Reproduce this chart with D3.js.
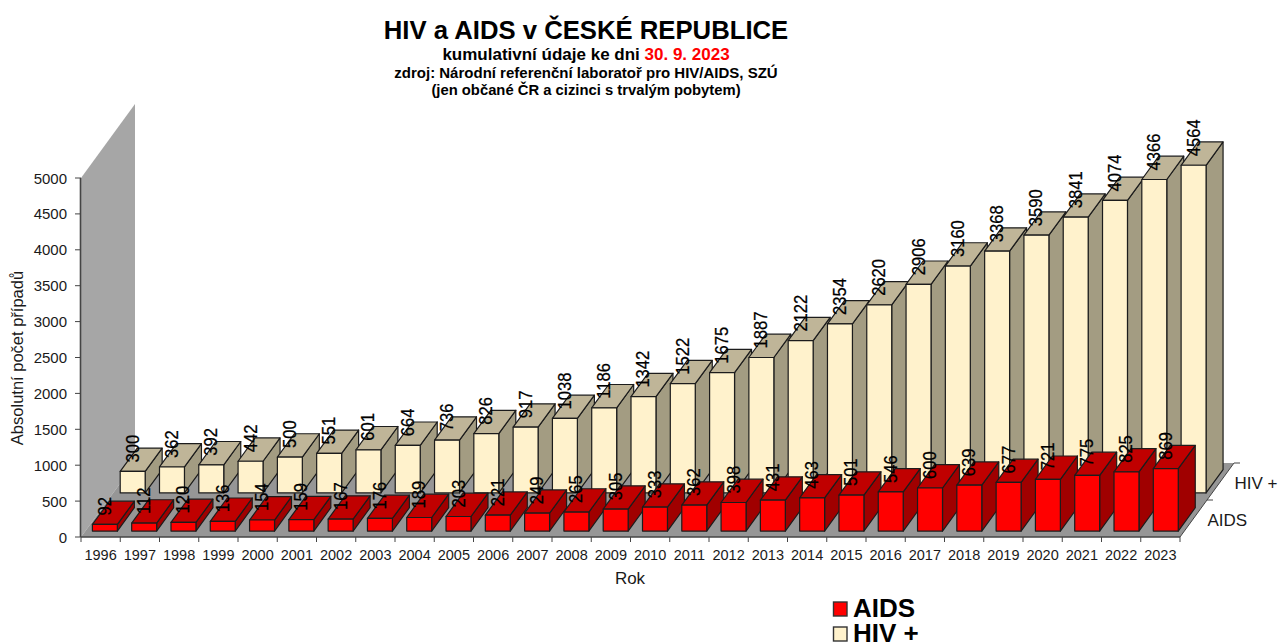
<!DOCTYPE html>
<html><head><meta charset="utf-8">
<script src="https://cdn.jsdelivr.net/npm/d3@7/dist/d3.min.js"></script>
<style>html,body{margin:0;padding:0;background:#fff}svg{display:block;font-family:"Liberation Sans",Arial,sans-serif}</style>
</head><body><svg id="c" width="1285" height="642"></svg>
<script>
const years=[1996,1997,1998,1999,2000,2001,2002,2003,2004,2005,2006,2007,2008,2009,2010,2011,2012,2013,2014,2015,2016,2017,2018,2019,2020,2021,2022,2023];
const hivValues=[300,362,392,442,500,551,601,664,736,826,917,1038,1186,1342,1522,1675,1887,2122,2354,2620,2906,3160,3368,3590,3841,4074,4366,4564];
const aidsValues=[92,112,120,136,154,159,167,176,189,203,221,249,265,305,333,362,398,431,463,501,546,600,639,677,721,775,825,869];
const yTicks=[0,500,1000,1500,2000,2500,3000,3500,4000,4500,5000];
const seriesNames=["AIDS","HIV +"];
const svg=d3.select("#c");
const TXT="#1a1a1a";
const x=d3.scaleBand().domain(years).range([81,1181]).paddingInner(0.365).paddingOuter(0.18);
const xTick=d3.scaleLinear().domain([0,years.length]).range([81,1180]);
const y=d3.scaleLinear().domain([0,5000]).range([537,178]);
const dx=d3.scaleLinear().domain([0,1]).range([0,54]);
const dy=d3.scaleLinear().domain([0,1]).range([0,-74]);
const P=(px,v,d)=>[px+dx(d),y(v)+dy(d)];
const path=pts=>"M"+pts.map(p=>p.join(",")).join("L")+"Z";
const g=svg.append("g");
// walls
g.append("path").attr("d",path([P(81,0,0),P(81,5000,0),P(81,5000,1),P(81,0,1)])).attr("fill","#a6a6a6");
g.append("path").attr("d",path([P(81,0,0),P(1180,0,0),P(1180,0,1),P(81,0,1)])).attr("fill","#969696");
const styles={
 AIDS:{front:"#ff0000",top:"#c00000",side:"#a00000",d0:0.08,d1:0.395},
 HIV:{front:"#fff2cc",top:"#bfb598",side:"#a39c82",d0:0.595,d1:0.91}
};
function bars(vals,s){
 const w=x.bandwidth();
 const gg=g.append("g");
 years.forEach((yr,i)=>{
  const l=x(yr),r=l+w,v=vals[i];
  const b=gg.append("g").attr("stroke","#1c1c1c").attr("stroke-width",1.2).attr("stroke-linejoin","round");
  b.append("path").attr("fill",s.side).attr("d",path([P(r,0,s.d0),P(r,v,s.d0),P(r,v,s.d1),P(r,0,s.d1)]));
  b.append("path").attr("fill",s.top).attr("d",path([P(l,v,s.d0),P(r,v,s.d0),P(r,v,s.d1),P(l,v,s.d1)]));
  b.append("path").attr("fill",s.front).attr("d",path([P(l,0,s.d0),P(r,0,s.d0),P(r,v,s.d0),P(l,v,s.d0)]));
 });
}
bars(hivValues,styles.HIV);
bars(aidsValues,styles.AIDS);
function labels(vals,s){
 years.forEach((yr,i)=>{
  const p=P(x(yr)+x.bandwidth()/2,vals[i],s.d0);
  g.append("text").attr("transform",`translate(${p[0]+6},${p[1]-9}) rotate(-90) scale(0.95,1)`)
   .attr("font-size",17.5).attr("fill","#000").attr("stroke","#000").attr("stroke-width",0.25).text(vals[i]);
 });
}
labels(hivValues,styles.HIV);
labels(aidsValues,styles.AIDS);
// axes
const ax=svg.append("g").attr("stroke","#444");
yTicks.forEach(t=>{
 ax.append("line").attr("x1",75).attr("x2",81).attr("y1",y(t)).attr("y2",y(t));
 svg.append("text").attr("x",67).attr("y",y(t)+5.5).attr("text-anchor","end").attr("font-size",15).attr("fill",TXT).text(t);
});
ax.append("line").attr("x1",80.5).attr("x2",80.5).attr("y1",y(0)).attr("y2",y(5000)).attr("stroke-width",1.6);
ax.append("line").attr("x1",81).attr("x2",1180).attr("y1",y(0)).attr("y2",y(0)).attr("stroke-width",1.4);
d3.range(years.length+1).forEach(i=>{
 ax.append("line").attr("x1",xTick(i)).attr("x2",xTick(i)).attr("y1",537).attr("y2",542);
});
years.forEach((yr,i)=>{
 svg.append("text").attr("x",xTick(i+0.5)).attr("y",560).attr("text-anchor","middle").attr("font-size",14.5).attr("fill",TXT).text(yr);
});
// depth axis
[0.5,1].forEach(d=>{
 const p=P(1180,0,d);
 ax.append("line").attr("x1",p[0]).attr("x2",p[0]+6).attr("y1",p[1]).attr("y2",p[1]);
});
ax.append("line").attr("x1",P(1180,0,0)[0]).attr("y1",P(1180,0,0)[1]).attr("x2",P(1180,0,1)[0]).attr("y2",P(1180,0,1)[1]);
[[0.25,"AIDS"],[0.75,"HIV +"]].forEach(([d,t])=>{
 const p=P(1180,0,d);
 svg.append("text").attr("x",p[0]+14).attr("y",p[1]+7).attr("font-size",17).attr("fill",TXT).text(t);
});
// titles
const tt=(tx,ty,fs,bold)=>svg.append("text").attr("x",tx).attr("y",ty).attr("text-anchor","middle").attr("font-size",fs).attr("font-weight",bold?"bold":"normal").attr("fill","#000");
tt(586,39,25.7,true).text("HIV a AIDS v ČESKÉ REPUBLICE");
const sub=tt(586,60,17,true);
sub.append("tspan").text("kumulativní údaje ke dni ");
sub.append("tspan").attr("fill","#ff0000").text("30. 9. 2023");
tt(586,78,15,true).text("zdroj: Národní referenční laboratoř pro HIV/AIDS, SZÚ");
tt(586,95,14.8,true).text("(jen občané ČR a cizinci s trvalým pobytem)");
svg.append("text").attr("transform","translate(23,358) rotate(-90)").attr("text-anchor","middle").attr("font-size",16.5).attr("fill",TXT).text("Absolutní počet případů");
svg.append("text").attr("x",630).attr("y",584).attr("text-anchor","middle").attr("font-size",17).attr("fill",TXT).text("Rok");
// legend
const lg=svg.append("g");
[["AIDS",styles.AIDS.front,617],["HIV +",styles.HIV.front,642]].forEach(([t,c,by])=>{
 lg.append("rect").attr("x",833.5).attr("y",by-15).attr("width",13.5).attr("height",14).attr("fill",c).attr("stroke","#333").attr("stroke-width",1.4);
 lg.append("text").attr("x",853).attr("y",by).attr("font-size",26).attr("font-weight","bold").attr("fill","#000").text(t);
});
</script></body></html>
